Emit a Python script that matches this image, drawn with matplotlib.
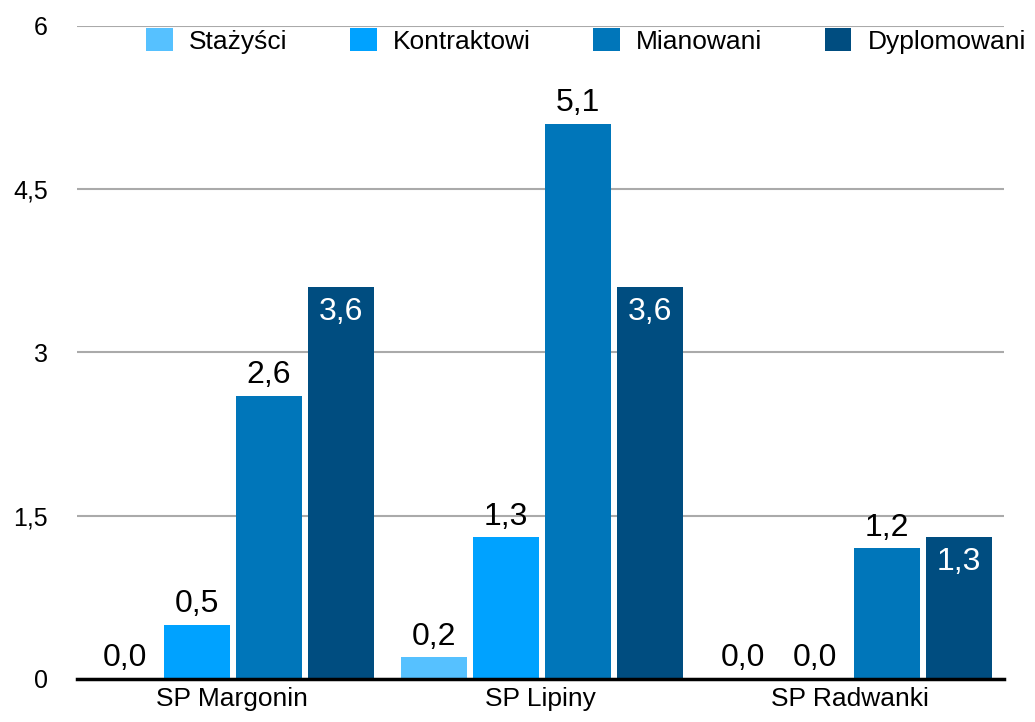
import matplotlib
matplotlib.use("Agg")
import matplotlib.pyplot as plt
import numpy as np

categories = ["SP Margonin", "SP Lipiny", "SP Radwanki"]
series_names = ["Stażyści", "Kontraktowi", "Mianowani", "Dyplomowani"]
stazysci = [0.0, 0.2, 0.0]
kontraktowi = [0.5, 1.3, 0.0]
mianowani = [2.6, 5.1, 1.2]
dyplomowani = [3.6, 3.6, 1.3]
yticks = [0, 1.5, 3, 4.5, 6]
ytick_labels = ["0", "1,5", "3", "4,5", "6"]

colors = ["#56C1FF", "#00A2FF", "#0076BA", "#004D80"]
inside_label = [False, False, False, True]

plt.rcParams['font.family'] = ['Liberation Sans', 'DejaVu Sans']

fig = plt.figure(figsize=(10.35, 7.22), dpi=100)
ax = fig.add_axes([0.0744, 0.0596, 0.8956, 0.9044])

x = np.arange(len(categories))
step = 0.233
width = 0.213
all_series = [stazysci, kontraktowi, mianowani, dyplomowani]
for i, (vals, name, col) in enumerate(zip(all_series, series_names, colors)):
    pos = x + (i - 1.5) * step + 0.004
    bars = ax.bar(pos, vals, width, color=col, label=name, zorder=3)
    for b, v in zip(bars, vals):
        txt = f"{v:.1f}".replace('.', ',')
        cx = b.get_x() + b.get_width() / 2
        if inside_label[i] and v > 0.5:
            ax.annotate(txt, (cx, v), xytext=(0, -7), textcoords='offset points',
                        ha='center', va='top', fontsize=23, color='white', zorder=4)
        else:
            ax.annotate(txt, (cx, v), xytext=(0, 4), textcoords='offset points',
                        ha='center', va='bottom', fontsize=23, color='black', zorder=4)

ax.set_xlim(-0.5, 2.5)
ax.set_ylim(0, 6)
ax.set_yticks(yticks)
ax.set_yticklabels(ytick_labels, fontsize=18)
ax.tick_params(axis='y', length=0, pad=21)
ax.set_xticks(x)
ax.set_xticklabels(categories, fontsize=19)
ax.tick_params(axis='x', length=0, pad=6)

ax.yaxis.grid(True, color='#AAAAAA', linewidth=1.5, zorder=0)
ax.set_axisbelow(True)
for s in ['top', 'right', 'left']:
    ax.spines[s].set_visible(False)
ax.spines['bottom'].set_linewidth(2.5)
ax.spines['bottom'].set_color('black')
ax.spines['bottom'].set_zorder(5)

handles, labels = ax.get_legend_handles_labels()
fig.legend(handles, labels, loc='center left', bbox_to_anchor=(146 / 1035, 1 - 41 / 722),
           ncol=4, frameon=False, fontsize=19, handlelength=1.02, handleheight=0.91,
           handletextpad=0.62, columnspacing=2.35, borderpad=0, borderaxespad=0)

fig.savefig("out.png", dpi=100)
